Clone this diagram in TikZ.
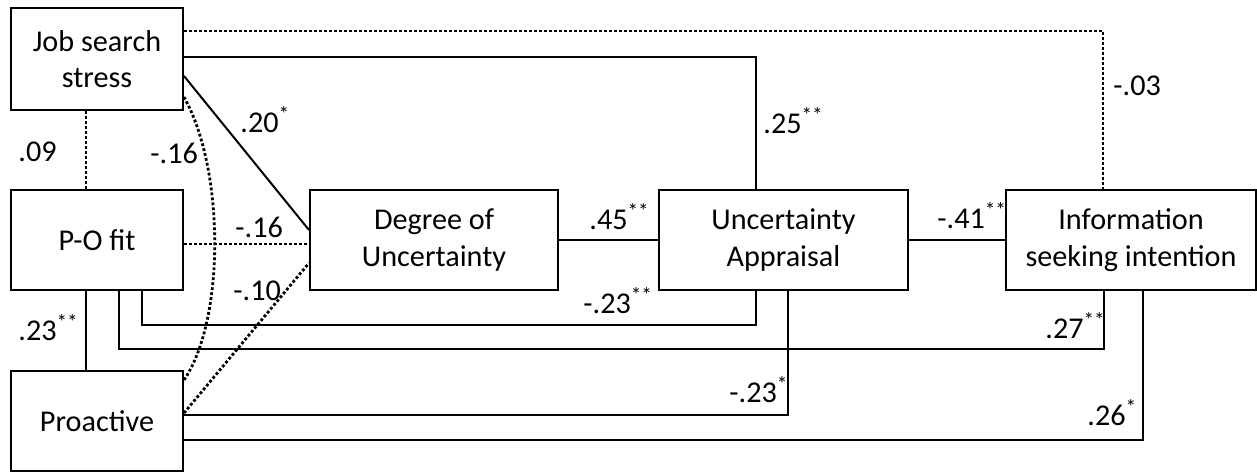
\documentclass[tikz,border=0pt]{standalone}
\usepackage{fontspec}
\setmainfont{Carlito}
\begin{document}
\begin{tikzpicture}[x=0.5pt,y=-0.5pt,
  box/.style={draw,line width=1pt,inner sep=0pt,align=center,font=\fontsize{15.1}{18.2}\selectfont},
  lab/.style={inner sep=0pt,anchor=base west,font=\fontsize{15.1}{18.2}\selectfont},
  conn/.style={line width=1pt},
  dots/.style={line width=1.4pt,dash pattern=on 1.4pt off 1.1pt}]
\useasboundingbox (0,0) rectangle (1257,472);
% boxes
\node[box,minimum width=86pt,minimum height=51pt] (jss) at (97,59) {Job search\\stress};
\node[box,minimum width=86pt,minimum height=50pt] (po) at (97,240) {P-O fit};
\node[box,minimum width=86pt,minimum height=50pt] (pro) at (97,421) {Proactive};
\node[box,minimum width=124pt,minimum height=50pt] (deg) at (434,240) {Degree of\\Uncertainty};
\node[box,minimum width=124.5pt,minimum height=50pt] (ua) at (783.5,240) {Uncertainty\\Appraisal};
\node[box,minimum width=125pt,minimum height=50pt] (info) at (1131,240) {Information\\seeking intention};
% connectors
\draw[dots] (jss.east |- 0,31) -| (info.north -| 1103,0);
\draw[conn] (jss.east |- 0,57) -| (ua.north -| 756,0);
\draw[conn] (jss.east |- 0,76) -- (deg.west |- 0,230);
\draw[dots] (jss.south -| 86,0) -- (po.north -| 86,0);
\draw[dots] (jss.east |- 0,97) .. controls (225,170) and (225,320) .. (pro.east |- 0,380);
\draw[dots] (po.east |- 0,244) -- (deg.west |- 0,244);
\draw[dots] (pro.east |- 0,413) -- (deg.west |- 0,263);
\draw[conn] (po.south -| 86,0) -- (pro.north -| 86,0);
\draw[conn] (po.south -| 142,0) -- (142,325) -| (ua.south -| 756,0);
\draw[conn] (po.south -| 119,0) -- (119,349) -| (info.south -| 1104,0);
\draw[conn] (pro.east |- 0,415) -| (ua.south -| 788,0);
\draw[conn] (pro.east |- 0,440) -| (info.south -| 1143,0);
\draw[conn] (deg.east) -- (ua.west);
\draw[conn] (ua.east) -- (info.west);
% labels
\node[lab] (l09) at (18,161) {.09};
\node[lab] (l16a) at (150,163) {-.16};
\node[lab] (l20) at (240,132) {.20\textsuperscript{*}};
\node[lab] (l16b) at (235,237) {-.16};
\node[lab] (l10) at (233,300) {-.10};
\node[lab] (l23a) at (18,340) {.23\textsuperscript{**}};
\node[lab] (l25) at (763,133) {.25\textsuperscript{**}};
\node[lab] (l45) at (589,229) {.45\textsuperscript{**}};
\node[lab] (l41) at (937,228) {-.41\textsuperscript{**}};
\node[lab] (l03) at (1113,95) {-.03};
\node[lab] (l23b) at (583,313) {-.23\textsuperscript{**}};
\node[lab] (l23c) at (729,402) {-.23\textsuperscript{*}};
\node[lab] (l27) at (1045,338) {.27\textsuperscript{**}};
\node[lab] (l26) at (1087,425) {.26\textsuperscript{*}};
\end{tikzpicture}
\end{document}
